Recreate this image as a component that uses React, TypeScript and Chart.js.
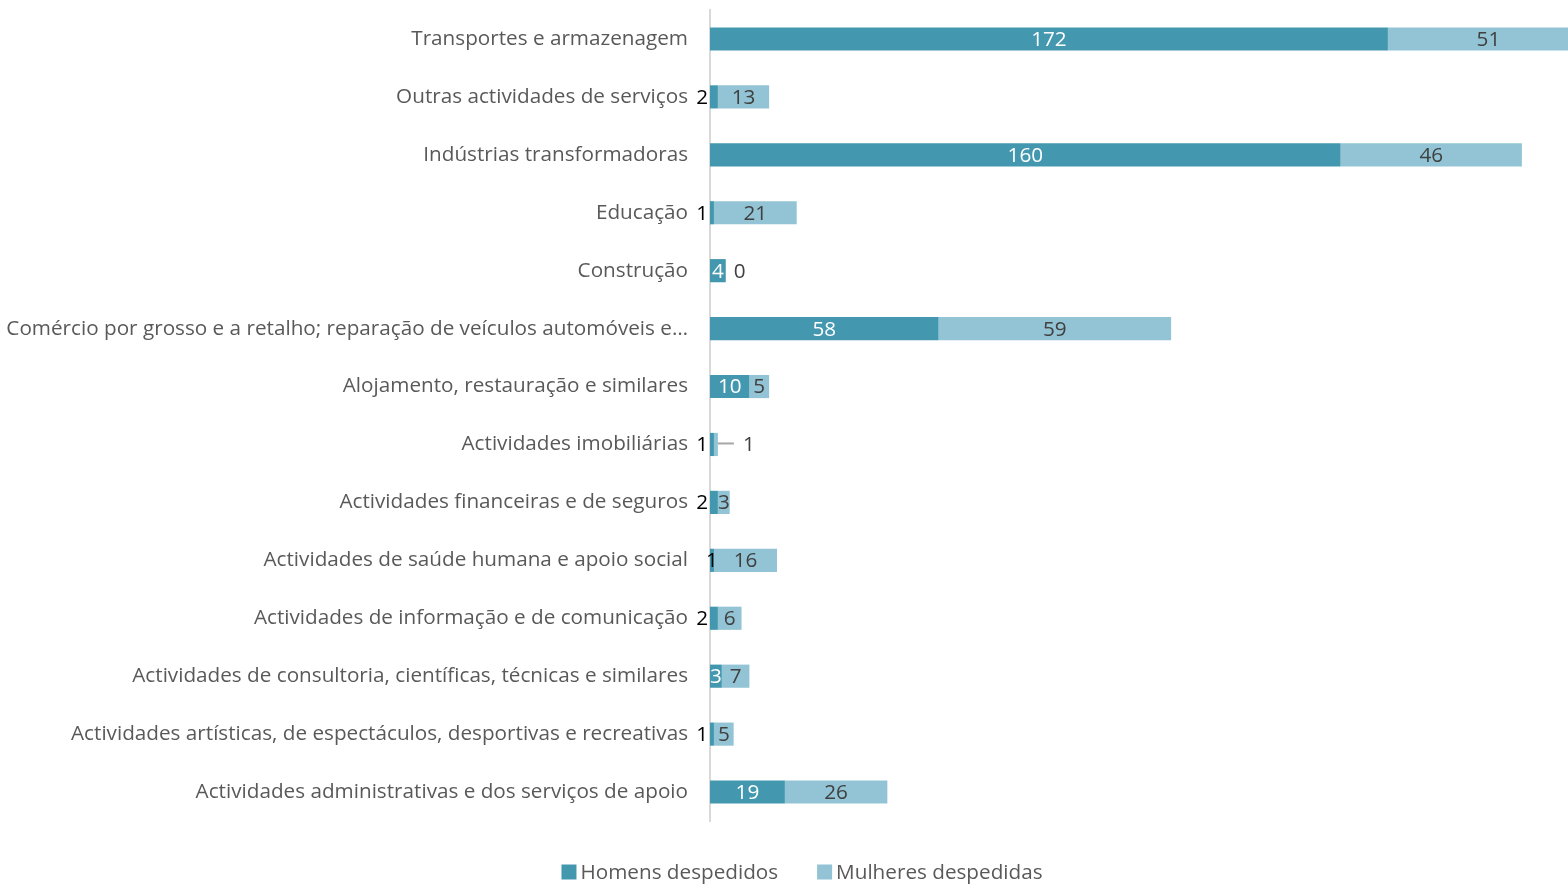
import React, { useEffect, useRef } from "react";
import { Chart, registerables } from "chart.js";

Chart.register(...registerables);

const categories = [
  "Transportes e armazenagem",
  "Outras actividades de serviços",
  "Indústrias transformadoras",
  "Educação",
  "Construção",
  "Comércio por grosso e a retalho; reparação de veículos automóveis e…",
  "Alojamento, restauração e similares",
  "Actividades imobiliárias",
  "Actividades financeiras e de seguros",
  "Actividades de saúde humana e apoio social",
  "Actividades de informação e de comunicação",
  "Actividades de consultoria, científicas, técnicas e similares",
  "Actividades artísticas, de espectáculos, desportivas e recreativas",
  "Actividades administrativas e dos serviços de apoio",
];

const homens = [172, 2, 160, 1, 4, 58, 10, 1, 2, 1, 2, 3, 1, 19];
const mulheres = [51, 13, 46, 21, 0, 59, 5, 1, 3, 16, 6, 7, 5, 26];

const seriesNames = ["Homens despedidos", "Mulheres despedidas"];

// label placement per point: in = centered (series text colour), ctr = centered black,
// left = outside left of bar, right = outside right, leader = outside right with leader line
const homensPlacement = ["in", "left", "in", "left", "in", "in", "in", "left", "left", "ctr", "left", "in", "left", "in"];
const mulheresPlacement = ["in", "in", "in", "in", "right", "in", "in", "leader", "in", "in", "in", "in", "in", "in"];

const DARK = "#4398AF";
const LIGHT = "#92C4D5";
const FONT = '"Open Sans", "Noto Sans", sans-serif';
const FSIZE = 20.7;

const labelPlugin = {
  id: "dataLabels",
  afterDatasetsDraw(chart: any) {
    const ctx = chart.ctx;
    ctx.save();
    ctx.font = `${FSIZE}px ${FONT}`;
    ctx.textBaseline = "middle";
    const placements = [homensPlacement, mulheresPlacement];
    const inColors = ["#FFFFFF", "#404040"];
    chart.data.datasets.forEach((ds: any, di: number) => {
      const meta = chart.getDatasetMeta(di);
      meta.data.forEach((el: any, i: number) => {
        const v = ds.data[i];
        const p = el.getProps(["x", "base", "y"], true);
        const place = placements[di][i];
        const ty = p.y + 1;
        const txt = String(v);
        if (place === "in") {
          ctx.fillStyle = inColors[di];
          ctx.textAlign = "center";
          ctx.fillText(txt, (p.x + p.base) / 2, ty);
        } else if (place === "ctr") {
          ctx.fillStyle = "#000000";
          ctx.textAlign = "center";
          ctx.fillText(txt, (p.x + p.base) / 2, ty);
        } else if (place === "left") {
          ctx.fillStyle = "#000000";
          ctx.textAlign = "right";
          ctx.fillText(txt, p.base - 2, ty);
        } else if (place === "right") {
          ctx.fillStyle = "#404040";
          ctx.textAlign = "left";
          ctx.fillText(txt, p.x + 8, ty);
        } else if (place === "leader") {
          ctx.strokeStyle = "#A6A6A6";
          ctx.lineWidth = 2;
          ctx.beginPath();
          ctx.moveTo(p.x, p.y - 1);
          ctx.lineTo(p.x + 16, p.y - 1);
          ctx.stroke();
          ctx.fillStyle = "#404040";
          ctx.textAlign = "left";
          ctx.fillText(txt, p.x + 25, ty);
        }
      });
    });
    ctx.restore();
  },
};

const legendPlugin = {
  id: "customLegend",
  afterDraw(chart: any) {
    const ctx = chart.ctx;
    ctx.save();
    ctx.font = `${FSIZE}px ${FONT}`;
    ctx.textBaseline = "middle";
    ctx.textAlign = "left";
    const colors = [DARK, LIGHT];
    const box = 15;
    const gap = 4;
    const spacing = 39;
    const widths = seriesNames.map((n) => box + gap + ctx.measureText(n).width);
    const total = widths[0] + spacing + widths[1];
    const cy = 872;
    let x = chart.width / 2 + 18 - total / 2;
    seriesNames.forEach((n, i) => {
      ctx.fillStyle = colors[i];
      ctx.fillRect(x, cy - box / 2, box, box);
      ctx.fillStyle = "#595959";
      ctx.fillText(n, x + box + gap, cy + 1);
      x += widths[i] + spacing;
    });
    ctx.restore();
  },
};

export default function App() {
  const ref = useRef<HTMLCanvasElement | null>(null);
  useEffect(() => {
    if (!ref.current) return;
    const chart = new Chart(ref.current, {
      type: "bar",
      data: {
        labels: categories,
        datasets: [
          {
            label: seriesNames[0],
            data: homens,
            backgroundColor: DARK,
            borderWidth: 0,
            barPercentage: 0.4,
            categoryPercentage: 1,
          },
          {
            label: seriesNames[1],
            data: mulheres,
            backgroundColor: LIGHT,
            borderWidth: 0,
            barPercentage: 0.4,
            categoryPercentage: 1,
          },
        ],
      },
      options: {
        indexAxis: "y",
        animation: false,
        responsive: true,
        maintainAspectRatio: false,
        layout: { padding: { top: 10, right: 0, left: 0, bottom: 64 } },
        scales: {
          x: {
            stacked: true,
            display: false,
            min: 0,
            max: 217.7,
          },
          y: {
            stacked: true,
            grid: { display: false, drawTicks: false },
            border: { display: true, color: "#D9D9D9", width: 2 },
            ticks: {
              color: "#595959",
              font: { family: FONT, size: FSIZE },
              padding: 22,
              autoSkip: false,
            },
            afterFit(scale: any) {
              scale.width = 710;
              scale.paddingTop = 0;
              scale.paddingBottom = 0;
            },
          },
        },
        plugins: {
          legend: { display: false },
          tooltip: { enabled: false },
        },
      },
      plugins: [labelPlugin, legendPlugin],
    });
    return () => chart.destroy();
  }, []);
  return (
    <div style={{ position: "fixed", left: 0, top: 0, width: 1568, height: 885, background: "#fff" }}>
      <canvas ref={ref} />
    </div>
  );
}
